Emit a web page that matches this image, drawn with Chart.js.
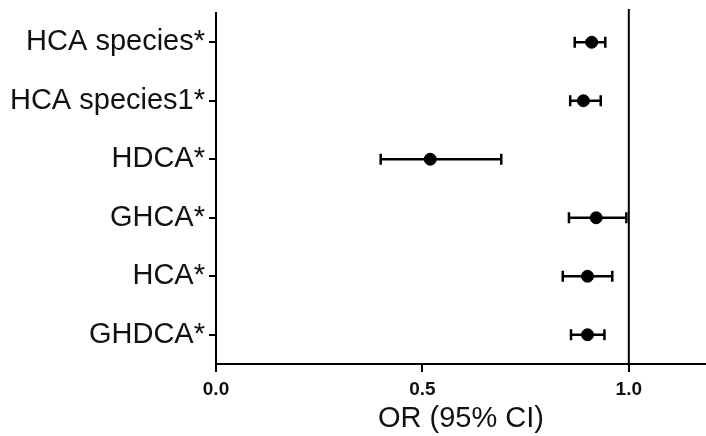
<!DOCTYPE html>
<html>
<head>
<meta charset="utf-8">
<script src="https://cdn.jsdelivr.net/npm/chart.js@4/dist/chart.umd.min.js"></script>
<style>
  html, body { margin: 0; padding: 0; background: #fff; }
  #wrap { width: 706px; height: 436px; }
</style>
</head>
<body>
<div id="wrap"><canvas id="forest"></canvas></div>
<script>
// Dados do forest plot
const categorias = ['HCA species*', 'HCA species1*', 'HDCA*', 'GHCA*', 'HCA*', 'GHDCA*'];
const oddsRatio = [0.910, 0.890, 0.519, 0.921, 0.900, 0.900];
const icInferior = [0.869, 0.858, 0.399, 0.855, 0.840, 0.860];
const icSuperior = [0.943, 0.932, 0.691, 0.994, 0.960, 0.941];
const ticksX = [0.0, 0.5, 1.0];
const linhaRef = 1.0;

// Barras de erro e linha de referência desenhadas pelas escalas
const errorBars = {
  id: 'errorBars',
  beforeDatasetsDraw(chart) {
    const { ctx, chartArea, scales: { x, y } } = chart;
    ctx.save();
    ctx.strokeStyle = '#000';
    ctx.lineWidth = 2.5;
    categorias.forEach((c, i) => {
      const py = y.getPixelForValue(i);
      const x1 = x.getPixelForValue(icInferior[i]);
      const x2 = x.getPixelForValue(icSuperior[i]);
      ctx.beginPath();
      ctx.moveTo(x1, py); ctx.lineTo(x2, py);
      ctx.moveTo(x1, py - 5.5); ctx.lineTo(x1, py + 5.5);
      ctx.moveTo(x2, py - 5.5); ctx.lineTo(x2, py + 5.5);
      ctx.stroke();
    });
    // linha vertical em OR = 1
    const rx = x.getPixelForValue(linhaRef);
    ctx.lineWidth = 2;
    ctx.beginPath();
    ctx.moveTo(rx, chartArea.top - 4);
    ctx.lineTo(rx, chartArea.bottom);
    ctx.stroke();
    ctx.restore();
  }
};

const ctx = document.getElementById('forest').getContext('2d');
const grafico = new Chart(ctx, {
  type: 'scatter',
  data: {
    labels: categorias,
    datasets: [{
      label: 'OR',
      data: categorias.map((c, i) => ({ x: oddsRatio[i], y: c })),
      backgroundColor: '#000',
      borderColor: '#000',
      pointRadius: 6,
      pointHoverRadius: 6
    }]
  },
  options: {
    responsive: true,
    maintainAspectRatio: false,
    animation: false,
    layout: { autoPadding: false, padding: { top: 13, right: 0, bottom: 0, left: 0 } },
    plugins: {
      legend: { display: false },
      tooltip: { enabled: false }
    },
    scales: {
      x: {
        type: 'linear',
        min: 0,
        max: 1.187,
        afterBuildTicks: s => { s.ticks = ticksX.map(v => ({ value: v })); },
        afterFit: s => { s.height = 72; s.paddingLeft = 0; s.paddingRight = 0; },
        border: { display: true, color: '#000', width: 2 },
        grid: { drawOnChartArea: false, color: '#000', lineWidth: 2, tickLength: 8 },
        ticks: {
          color: '#111',
          padding: 6,
          font: { family: "'Liberation Sans', Arial, sans-serif", size: 19, weight: 'bold' },
          callback: v => v.toFixed(1)
        },
        title: {
          display: true,
          text: 'OR (95% CI)',
          color: '#111',
          padding: { top: 0, bottom: 0 },
          font: { family: "'Liberation Sans', Arial, sans-serif", size: 29 }
        }
      },
      y: {
        type: 'category',
        labels: categorias,
        offset: true,
        afterFit: s => { s.width = 216; s.paddingTop = 0; s.paddingBottom = 0; },
        border: { display: true, color: '#000', width: 2 },
        grid: { drawOnChartArea: false, color: '#000', lineWidth: 2, tickLength: 7, offset: false },
        ticks: {
          color: '#111',
          padding: 4,
          font: { family: "'Liberation Sans', Arial, sans-serif", size: 29 }
        }
      }
    }
  },
  plugins: [errorBars]
});
</script>
</body>
</html>
